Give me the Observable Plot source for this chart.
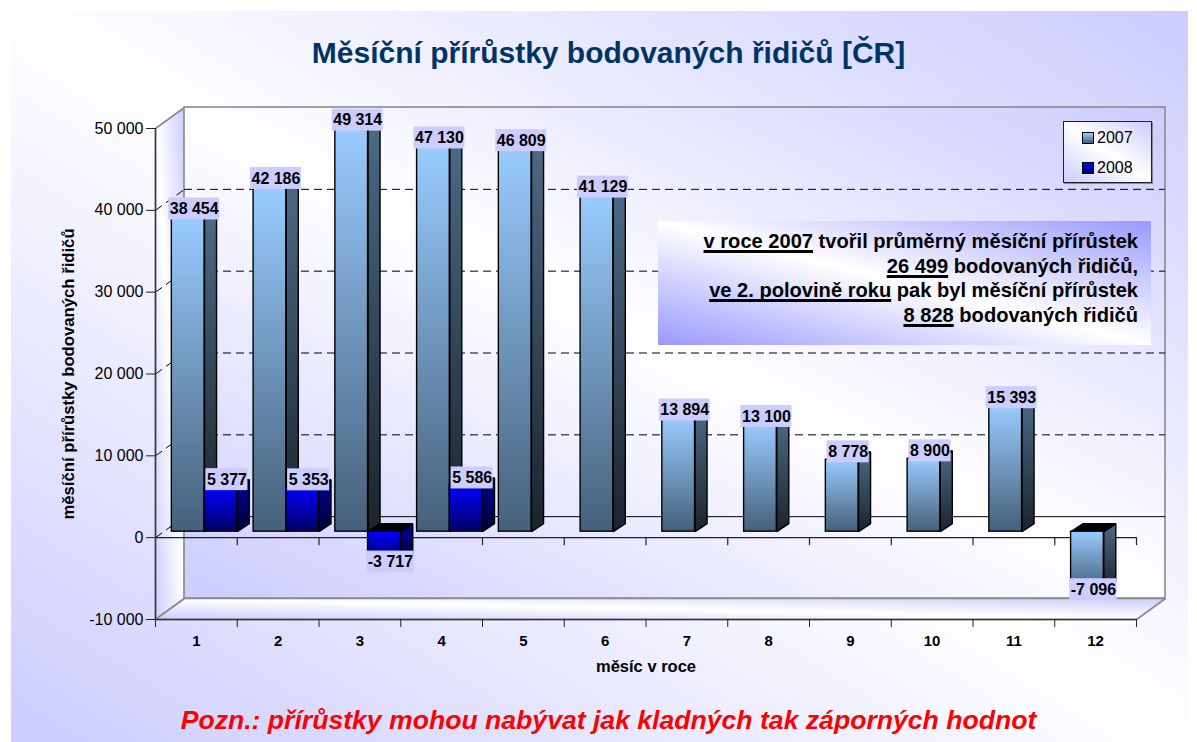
<!DOCTYPE html>
<html lang="cs">
<head>
<meta charset="utf-8">
<script src="https://cdn.jsdelivr.net/npm/d3@7"></script>
<script src="https://cdn.jsdelivr.net/npm/@observablehq/plot@0.6"></script>
<style>
html,body{margin:0;padding:0;background:#fff;overflow:hidden}
#page{position:absolute;left:0;top:0;width:1197px;height:742px;font-family:"Liberation Sans",Arial,sans-serif}
#bg{position:absolute;left:11px;top:11px;width:1177px;height:731px;background:linear-gradient(to top right,#ccccff 0%,#fff 50%,#ccccff 100%)}
#chart{position:absolute;left:0;top:0}
#title{position:absolute;left:0;width:1217px;top:36px;text-align:center;font-weight:bold;font-size:30px;line-height:34px;color:#003366}
#note{position:absolute;left:0;width:1217px;top:705px;text-align:center;font-weight:bold;font-style:italic;font-size:26.6px;line-height:30px;color:#ff0000}
#box{position:absolute;left:658px;top:221px;width:493px;height:124px;background:linear-gradient(to top right,#9999ff 0%,#fff 50%,#9999ff 100%);box-sizing:border-box;padding:8px 13px 0 0;text-align:right;font-weight:bold;font-size:20.1px;line-height:24.7px;color:#000}
#box u{text-decoration-thickness:2.5px;text-underline-offset:2px;text-decoration-skip-ink:none}
#legend{position:absolute;left:1063px;top:121px;width:89px;height:62px;box-sizing:border-box;border:1px solid #222;box-shadow:1px 1px 0 #888;background:linear-gradient(to top right,#ccccff 0%,#fff 50%,#ccccff 100%);font-size:16px;color:#000}
.li{position:absolute;left:18px;height:18px;line-height:18px;padding-left:15px}
.li i{position:absolute;left:0;top:3px;width:10px;height:10px;border:1px solid #000}
</style>
</head>
<body>
<div id="page">
<div id="bg"></div>
<div id="chart"></div>
<div id="title"></div>
<div id="note"></div>
<div id="box"></div>
<div id="legend"></div>
</div>
<script>
// ---- Data ----
const months = [1,2,3,4,5,6,7,8,9,10,11,12];
const values2007 = [38454,42186,49314,47130,46809,41129,13894,13100,8778,8900,15393,-7096];
const values2008 = [5377,5353,-3717,5586,null,null,null,null,null,null,null,null];
const yTicks = [-10000,0,10000,20000,30000,40000,50000];
const gridValues = [10000,20000,30000,40000,50000];
const seriesNames = ["2007","2008"];
const titleText = "Měsíční přírůstky bodovaných řidičů [ČR]";
const noteText = "Pozn.: přírůstky mohou nabývat jak kladných tak záporných hodnot";
const yTitle = "měsíční přírůstky bodovaných řidičů";
const xTitle = "měsíc v roce";
const boxLines = [
  "<u>v roce 2007</u> tvořil průměrný měsíční přírůstek",
  "<u>26 499</u> bodovaných řidičů,",
  "<u>ve 2. polovině roku</u> pak byl měsíční přírůstek",
  "<u>8 828</u> bodovaných řidičů"
];

// ---- Scale geometry ----
const W = 1197, H = 742;
const left = 155, right = 1136, top_ = 128, bottom = 619;
const yMin = -10000, yMax = 50000;
const pxX = (right - left) / 12;                // pixels per month
const pxY = (bottom - top_) / (yMax - yMin);    // pixels per value unit
const px2x = p => p / pxX, px2y = p => p / pxY;
const wallDX = px2x(29), wallDY = px2y(21);     // depth of chart box
const barDX = px2x(12), barDY = px2y(8);        // depth of a bar
const barLift = px2y(6);                        // bar base sits behind the front plane
const barW = 0.4, barGap = 0.2;

const fmt = v => d3.format(",")(v).replace(/,/g, " ").replace("−", "-");

// Build bars
const bars = [];
months.forEach((m, i) => {
  [[values2007[i], 0], [values2008[i], 1]].forEach(([v, s]) => {
    if (v == null) return;
    const x1 = m - 1 + barGap + s * barW, x2 = x1 + barW;
    bars.push({m, v, s, x1, x2, base: barLift, end: v + barLift});
  });
});
const poly = pts => pts.map(([x, y]) => ({x, y}));
const face = (pts, fill, extra = {}) => Plot.line(poly(pts), {x: "x", y: "y", curve: "linear-closed", fill, stroke: "#000", strokeWidth: 1.4, strokeLinejoin: "miter", ...extra});

const barMarks = bars.flatMap(b => {
  const hi = Math.max(b.base, b.end), lo = Math.min(b.base, b.end);
  const frontG = b.s ? "url(#gBlue)" : "url(#gSteel)";
  const sideG = b.s ? "url(#gBlueSide)" : "url(#gSteelSide)";
  return [
    face([[b.x2, lo], [b.x2 + barDX, lo + barDY], [b.x2 + barDX, hi + barDY], [b.x2, hi]], sideG),
    face([[b.x1, hi], [b.x2, hi], [b.x2 + barDX, hi + barDY], [b.x1 + barDX, hi + barDY]], "#000"),
    Plot.rect([b], {x1: "x1", x2: "x2", y1: () => lo, y2: () => hi, fill: frontG, stroke: "#000", strokeWidth: 1.4})
  ];
});

// Value labels: measured so the lavender plate hugs the text
const ctx = document.createElement("canvas").getContext("2d");
ctx.font = "bold 16px 'Liberation Sans'";
const labels = bars.map(b => {
  const t = fmt(b.v), w = px2x(ctx.measureText(t).width + 2);
  const xc = b.x1 + (barW + barDX) / 2;
  const yc = b.v >= 0 ? b.v + px2y(14) : b.v + barLift;
  return {t, xc, yc, xa: xc - w / 2, xb: xc + w / 2, ya: yc - px2y(11), yb: yc + px2y(11)};
});

const boundaries = d3.range(0, 13);
const wallStroke = {stroke: "#8a8a8a", strokeWidth: 1.6};

const plot = Plot.plot({
  width: W, height: H,
  marginLeft: left, marginRight: W - right, marginTop: top_, marginBottom: H - bottom,
  style: {background: "transparent", fontFamily: "'Liberation Sans',Arial,sans-serif", overflow: "visible"},
  x: {type: "linear", domain: [0, 12], label: null},
  y: {type: "linear", domain: [yMin, yMax], label: null},
  marks: [
    () => {
      const ns = "http://www.w3.org/2000/svg";
      const defs = document.createElementNS(ns, "defs");
      const grad = (id, stops, [x1, y1, x2, y2] = [0, 0, 0, 1]) => {
        const g = document.createElementNS(ns, "linearGradient");
        g.setAttribute("id", id);
        g.setAttribute("x1", x1); g.setAttribute("y1", y1);
        g.setAttribute("x2", x2); g.setAttribute("y2", y2);
        stops.forEach(([o, c]) => {
          const s = document.createElementNS(ns, "stop");
          s.setAttribute("offset", o); s.setAttribute("stop-color", c);
          g.appendChild(s);
        });
        defs.appendChild(g);
      };
      grad("gWall", [[0, "#ccccff"], [.5, "#ffffff"], [1, "#ccccff"]], [0, 1, 1, 0]);
      grad("gSteel", [[0, "#99ccff"], [1, "#45607a"]]);
      grad("gSteelSide", [[0, "#4d6a86"], [1, "#1a242c"]]);
      grad("gBlue", [[0, "#0000ff"], [1, "#000066"]]);
      grad("gBlueSide", [[0, "#000099"], [1, "#000033"]]);
      return defs;
    },
    // walls and floor of the 3-D box
    face([[0, yMin], [wallDX, yMin + wallDY], [wallDX, yMax + wallDY], [0, yMax]], "url(#gWall)", wallStroke),
    face([[0, yMin], [12, yMin], [12 + wallDX, yMin + wallDY], [wallDX, yMin + wallDY]], "url(#gWall)", wallStroke),
    Plot.rect([0], {x1: () => wallDX, x2: () => 12 + wallDX, y1: () => yMin + wallDY, y2: () => yMax + wallDY, fill: "url(#gWall)", ...wallStroke}),
    // gridlines on back wall and side wall
    Plot.ruleY(gridValues.slice(0, 4), {y: d => d + wallDY, x1: wallDX, x2: 12 + wallDX, stroke: "#000", strokeWidth: 1, strokeDasharray: "8 5"}),
    Plot.link(gridValues.slice(0, 4).concat(0), {x1: 0, x2: wallDX, y1: d => d, y2: d => d + wallDY, stroke: "#000", strokeWidth: 1, strokeDasharray: "8 5"}),
    Plot.ruleY([0], {y: d => d + wallDY, x1: wallDX, x2: 12 + wallDX, stroke: "#000", strokeWidth: 1}),
    // front zero line with its ticks
    Plot.ruleY([0], {x1: 0, x2: 12, stroke: "#222", strokeWidth: 1.2}),
    Plot.ruleX(boundaries.slice(1), {y1: 0, y2: -px2y(8), stroke: "#222", strokeWidth: 1.2}),
    // bars
    ...barMarks,
    // front axes
    Plot.ruleY([yMin], {x1: 0, x2: 12, stroke: "#333", strokeWidth: 1.4}),
    Plot.ruleX([0], {y1: yMin, y2: yMax, stroke: "#333", strokeWidth: 1.4}),
    Plot.axisY({ticks: yTicks, tickSize: 9, tickPadding: 3, tickFormat: fmt, fontSize: 16, fill: "#000", stroke: "#222", label: null, marginLeft: left}),
    Plot.axisX({ticks: boundaries, tickSize: 8, tickFormat: () => "", stroke: "#222", label: null}),
    Plot.axisX({ticks: months.map(m => m - .5), tickSize: 0, tickPadding: 16, tickFormat: d => d + .5, fontSize: 15, fontWeight: "bold", fill: "#000", label: null}),
    // axis titles
    Plot.text([yTitle], {x: 0, y: 20000, dx: -87, rotate: -90, fontSize: 16.7, fontWeight: "bold", fill: "#000"}),
    Plot.text([xTitle], {x: 6, y: yMin, dy: 47, fontSize: 16.5, fontWeight: "bold", fill: "#000"}),
    // value labels
    Plot.rect(labels, {x1: "xa", x2: "xb", y1: "ya", y2: "yb", fill: "#ccccff"}),
    Plot.text(labels, {x: "xc", y: "yc", text: "t", fontSize: 16, fontWeight: "bold", fill: "#000"})
  ]
});
document.getElementById("chart").appendChild(plot);

document.getElementById("title").textContent = titleText;
document.getElementById("note").textContent = noteText;
document.getElementById("box").innerHTML = boxLines.join("<br>");
document.getElementById("legend").innerHTML = seriesNames.map((n, i) =>
  `<div class="li" style="top:${i ? 37 : 7}px"><i style="background:${i ? "linear-gradient(#0000ff,#000066)" : "linear-gradient(#99ccff,#45607a)"}"></i>${n}</div>`).join("");
</script>
</body>
</html>
